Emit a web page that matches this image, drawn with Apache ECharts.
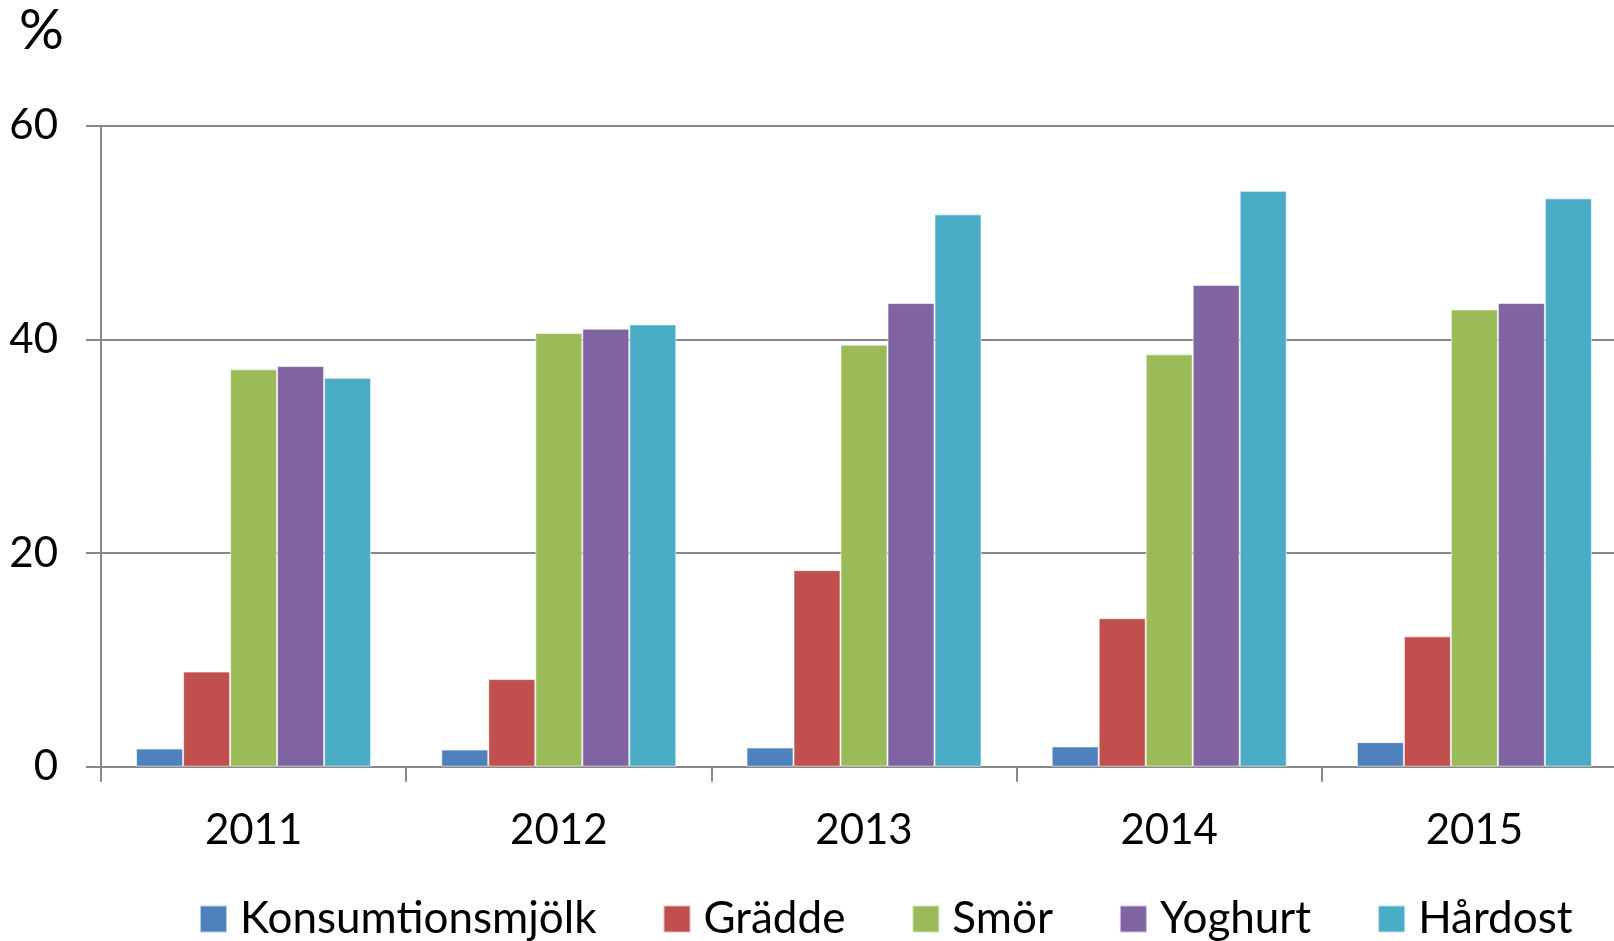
<!DOCTYPE html>
<html>
<head>
<meta charset="utf-8">
<script src="https://cdn.jsdelivr.net/npm/echarts@6/dist/echarts.min.js"></script>
<style>
  html, body { margin: 0; padding: 0; background: #fff; }
  #chart { width: 1614px; height: 941px; }
</style>
</head>
<body>
<div id="chart"></div>
<script>
// år på x-axeln
const years = ['2011', '2012', '2013', '2014', '2015'];

// andel i procent per produkt
const konsumtionsmjolk = [1.7, 1.6, 1.8, 1.9, 2.3];
const gradde = [8.9, 8.2, 18.4, 13.9, 12.2];
const smor = [37.2, 40.6, 39.5, 38.6, 42.8];
const yoghurt = [37.5, 41.0, 43.4, 45.1, 43.4];
const hardost = [36.4, 41.4, 51.7, 53.9, 53.2];

const seriesNames = ['Konsumtionsmjölk', 'Grädde', 'Smör', 'Yoghurt', 'Hårdost'];
const seriesData = [konsumtionsmjolk, gradde, smor, yoghurt, hardost];
const colors = ['#4F81BD', '#C0504D', '#9BBB59', '#8064A2', '#4BACC6'];

const font = 'Lato, "Open Sans", sans-serif';
const axisGrey = '#888888';

const chart = echarts.init(document.getElementById('chart'));

const option = {
  animation: false,
  backgroundColor: '#fff',
  color: colors,
  title: {
    text: '%',
    left: 14,
    top: -2,
    padding: 5,
    textStyle: { fontFamily: font, fontSize: 56, fontWeight: 'normal', color: '#000' }
  },
  // rutnätet fortsätter förbi bildens högra kant
  grid: {
    left: 101,
    width: 1526,
    top: 125.7,
    bottom: 174.3,
    containLabel: false,
    outerBoundsMode: 'none'
  },
  legend: {
    data: seriesNames,
    left: 199,
    top: 897,
    padding: 0,
    itemWidth: 27,
    itemHeight: 27,
    itemGap: 66,
    icon: 'rect',
    textStyle: { fontFamily: font, fontSize: 44, color: '#000', padding: [0, 0, 0, 8] }
  },
  xAxis: {
    type: 'category',
    data: years,
    axisLine: { lineStyle: { color: axisGrey, width: 2 } },
    axisTick: { show: true, length: 15, lineStyle: { color: axisGrey, width: 2 } },
    axisLabel: { fontFamily: font, fontSize: 42, color: '#000', margin: 43 },
    splitLine: { show: false }
  },
  yAxis: {
    type: 'value',
    min: 0,
    max: 60,
    interval: 20,
    axisLine: { show: true, lineStyle: { color: axisGrey, width: 2 } },
    axisTick: { show: true, length: 15, lineStyle: { color: axisGrey, width: 2 } },
    axisLabel: { fontFamily: font, fontSize: 42, color: '#000', margin: 43 },
    splitLine: { lineStyle: { color: axisGrey, width: 2 } }
  },
  series: seriesNames.map((name, i) => ({
    name: name,
    type: 'bar',
    data: seriesData[i],
    barGap: '0%',
    barCategoryGap: '23%',
    itemStyle: { color: colors[i], borderColor: 'rgba(255,255,255,0.6)', borderWidth: 1 }
  }))
};

chart.setOption(option);
</script>
</body>
</html>
